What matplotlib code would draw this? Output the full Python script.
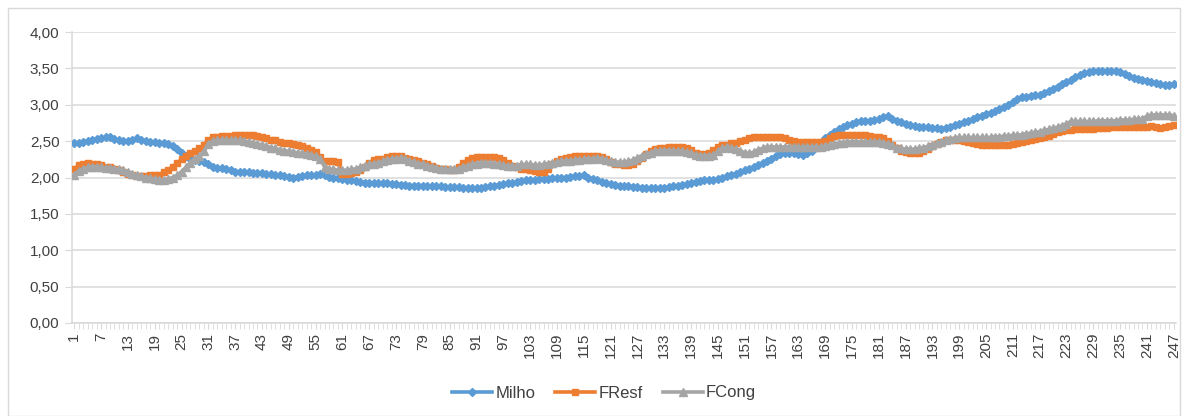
import matplotlib.pyplot as plt
from matplotlib.ticker import FuncFormatter, FixedLocator

plt.rcParams['font.family'] = ['Liberation Sans', 'DejaVu Sans']

milho = [
    2.48, 2.48, 2.49, 2.50, 2.52, 2.53, 2.54, 2.55, 2.55, 2.53,
    2.51, 2.50, 2.50, 2.52, 2.54, 2.52, 2.50, 2.49, 2.49, 2.48,
    2.47, 2.46, 2.43, 2.39, 2.34, 2.30, 2.26, 2.24, 2.23, 2.21,
    2.18, 2.15, 2.13, 2.13, 2.12, 2.10, 2.08, 2.08, 2.07, 2.07,
    2.06, 2.06, 2.06, 2.05, 2.05, 2.04, 2.03, 2.02, 2.01, 2.00,
    2.01, 2.02, 2.03, 2.03, 2.04, 2.05, 2.03, 2.01, 2.00, 1.99,
    1.98, 1.97, 1.96, 1.95, 1.94, 1.93, 1.93, 1.92, 1.92, 1.92,
    1.92, 1.91, 1.91, 1.90, 1.90, 1.89, 1.89, 1.89, 1.89, 1.88,
    1.88, 1.88, 1.88, 1.87, 1.87, 1.87, 1.87, 1.86, 1.86, 1.85,
    1.85, 1.86, 1.87, 1.88, 1.89, 1.90, 1.91, 1.92, 1.93, 1.94,
    1.95, 1.96, 1.97, 1.97, 1.98, 1.98, 1.98, 1.99, 1.99, 2.00,
    2.00, 2.01, 2.02, 2.02, 2.03, 2.00, 1.98, 1.96, 1.94, 1.93,
    1.91, 1.90, 1.89, 1.88, 1.88, 1.87, 1.87, 1.86, 1.86, 1.85,
    1.85, 1.85, 1.86, 1.87, 1.88, 1.89, 1.90, 1.91, 1.93, 1.94,
    1.95, 1.96, 1.96, 1.97, 1.98, 2.00, 2.02, 2.04, 2.05, 2.08,
    2.10, 2.12, 2.14, 2.17, 2.20, 2.23, 2.26, 2.29, 2.32, 2.34,
    2.34, 2.33, 2.32, 2.31, 2.33, 2.37, 2.42, 2.48, 2.54, 2.59,
    2.63, 2.66, 2.69, 2.72, 2.74, 2.76, 2.77, 2.78, 2.78, 2.79,
    2.80, 2.83, 2.84, 2.81, 2.78, 2.76, 2.74, 2.72, 2.71, 2.70,
    2.70, 2.69, 2.68, 2.68, 2.67, 2.68, 2.70, 2.72, 2.74, 2.76,
    2.78, 2.80, 2.83, 2.85, 2.87, 2.89, 2.91, 2.94, 2.97, 3.00,
    3.04, 3.08, 3.10, 3.11, 3.12, 3.13, 3.14, 3.16, 3.19, 3.22,
    3.25, 3.28, 3.31, 3.34, 3.38, 3.41, 3.43, 3.45, 3.46, 3.46,
    3.46, 3.46, 3.46, 3.46, 3.45, 3.42, 3.39, 3.37, 3.35, 3.34,
    3.33, 3.31, 3.30, 3.28, 3.27, 3.27, 3.29,
]

fresf = [
    2.12, 2.17, 2.19, 2.20, 2.19, 2.18, 2.17, 2.15, 2.14, 2.12,
    2.10, 2.08, 2.05, 2.03, 2.02, 2.02, 2.02, 2.03, 2.03, 2.04,
    2.07, 2.10, 2.15, 2.20, 2.25, 2.30, 2.34, 2.37, 2.40, 2.44,
    2.52, 2.55, 2.56, 2.57, 2.57, 2.57, 2.58, 2.58, 2.59, 2.59,
    2.58, 2.57, 2.55, 2.54, 2.52, 2.51, 2.49, 2.48, 2.47, 2.46,
    2.45, 2.43, 2.41, 2.38, 2.35, 2.28, 2.23, 2.22, 2.22, 2.21,
    2.05, 2.05, 2.06, 2.07, 2.10, 2.15, 2.20, 2.24, 2.25, 2.26,
    2.28, 2.30, 2.30, 2.29, 2.27, 2.25, 2.24, 2.22, 2.20, 2.18,
    2.16, 2.13, 2.12, 2.11, 2.10, 2.10, 2.15, 2.20, 2.24, 2.27,
    2.28, 2.28, 2.28, 2.28, 2.28, 2.27, 2.24, 2.20, 2.16, 2.14,
    2.12, 2.11, 2.10, 2.09, 2.08, 2.08, 2.12, 2.18, 2.22, 2.25,
    2.27, 2.28, 2.29, 2.29, 2.30, 2.30, 2.30, 2.29, 2.28, 2.25,
    2.21, 2.19, 2.18, 2.17, 2.17, 2.18, 2.22, 2.27, 2.32, 2.36,
    2.39, 2.40, 2.41, 2.42, 2.42, 2.42, 2.42, 2.41, 2.38, 2.34,
    2.32, 2.32, 2.33, 2.38, 2.42, 2.44, 2.45, 2.47, 2.48, 2.50,
    2.52, 2.54, 2.55, 2.55, 2.55, 2.55, 2.55, 2.55, 2.55, 2.54,
    2.52, 2.50, 2.49, 2.49, 2.49, 2.49, 2.49, 2.49, 2.50, 2.54,
    2.57, 2.58, 2.58, 2.58, 2.58, 2.58, 2.58, 2.58, 2.57, 2.56,
    2.55, 2.54, 2.50, 2.45, 2.40, 2.36, 2.35, 2.34, 2.34, 2.34,
    2.36, 2.39, 2.43, 2.46, 2.49, 2.51, 2.52, 2.52, 2.51, 2.50,
    2.49, 2.48, 2.46, 2.44, 2.44, 2.44, 2.44, 2.44, 2.44, 2.45,
    2.46, 2.48, 2.49, 2.50, 2.52, 2.53, 2.54, 2.55, 2.57, 2.60,
    2.62, 2.64, 2.65, 2.65, 2.66, 2.66, 2.67, 2.67, 2.67, 2.68,
    2.68, 2.68, 2.69, 2.69, 2.70, 2.70, 2.70, 2.69, 2.69, 2.69,
    2.70, 2.71, 2.69, 2.68, 2.70, 2.71, 2.72,
]

fcong = [
    2.04, 2.09, 2.12, 2.14, 2.15, 2.15, 2.14, 2.13, 2.13, 2.12,
    2.11, 2.10, 2.08, 2.05, 2.03, 2.02, 2.00, 1.99, 1.98, 1.97,
    1.97, 1.98, 2.00, 2.03, 2.08, 2.14, 2.20, 2.26, 2.30, 2.36,
    2.46, 2.50, 2.51, 2.51, 2.51, 2.51, 2.51, 2.51, 2.50, 2.49,
    2.47, 2.46, 2.45, 2.43, 2.41, 2.40, 2.38, 2.37, 2.36, 2.35,
    2.34, 2.33, 2.32, 2.31, 2.29, 2.25, 2.15, 2.12, 2.11, 2.10,
    2.10, 2.10, 2.11, 2.12, 2.14, 2.16, 2.18, 2.19, 2.20, 2.22,
    2.24, 2.25, 2.26, 2.27, 2.25, 2.23, 2.21, 2.19, 2.18, 2.16,
    2.15, 2.13, 2.12, 2.11, 2.11, 2.11, 2.12, 2.14, 2.16, 2.18,
    2.19, 2.20, 2.20, 2.20, 2.19, 2.18, 2.17, 2.16, 2.16, 2.16,
    2.18, 2.18, 2.18, 2.17, 2.17, 2.18, 2.19, 2.20, 2.21, 2.22,
    2.23, 2.23, 2.24, 2.24, 2.25, 2.26, 2.26, 2.27, 2.26, 2.24,
    2.22, 2.21, 2.21, 2.21, 2.22, 2.24, 2.27, 2.30, 2.32, 2.34,
    2.36, 2.37, 2.37, 2.37, 2.37, 2.36, 2.36, 2.35, 2.33, 2.31,
    2.30, 2.30, 2.30, 2.31, 2.36, 2.40, 2.42, 2.41, 2.39, 2.37,
    2.34, 2.33, 2.35, 2.38, 2.40, 2.42, 2.42, 2.42, 2.42, 2.42,
    2.42, 2.42, 2.42, 2.42, 2.42, 2.42, 2.42, 2.42, 2.43, 2.45,
    2.46, 2.47, 2.48, 2.49, 2.49, 2.49, 2.49, 2.49, 2.49, 2.49,
    2.49, 2.48, 2.46, 2.44, 2.41, 2.40, 2.39, 2.39, 2.39, 2.40,
    2.41, 2.43, 2.45, 2.47, 2.49, 2.51, 2.53, 2.54, 2.55, 2.55,
    2.55, 2.55, 2.55, 2.55, 2.55, 2.55, 2.56, 2.56, 2.57, 2.57,
    2.58, 2.58, 2.59, 2.60, 2.61, 2.62, 2.63, 2.65, 2.66, 2.68,
    2.69, 2.71, 2.74, 2.77, 2.77, 2.77, 2.77, 2.77, 2.77, 2.78,
    2.78, 2.78, 2.78, 2.78, 2.79, 2.79, 2.79, 2.80, 2.80, 2.81,
    2.84, 2.86, 2.86, 2.86, 2.86, 2.86, 2.85,
]

n = len(milho)
x = list(range(1, n + 1))
label_ticks = list(range(1, n + 1, 6))

grid_col = '#D9D9D9'
text_col = '#404040'

fig = plt.figure(figsize=(11.82, 4.16), dpi=100)
ax = fig.add_axes([72 / 1182, 1 - 323 / 416, 1104 / 1182, 291 / 416])

ax.plot(x, milho, color='#5B9BD5', lw=2.6, marker='D', ms=4.2, label='Milho', zorder=3)
ax.plot(x, fresf, color='#ED7D31', lw=2.6, marker='s', ms=5.0, label='FResf', zorder=4)
ax.plot(x, fcong, color='#A5A5A5', lw=2.6, marker='^', ms=5.5, label='FCong', zorder=5)

ax.set_xlim(0.5, n + 0.5)
ax.set_ylim(0, 4)
ax.set_yticks([0, 0.5, 1, 1.5, 2, 2.5, 3, 3.5, 4])
ax.yaxis.set_major_formatter(FuncFormatter(lambda v, p: f'{v:.2f}'.replace('.', ',')))
ax.grid(axis='y', color=grid_col, lw=1.1)
ax.set_axisbelow(True)

ax.xaxis.set_major_locator(FixedLocator(label_ticks))
ax.xaxis.set_minor_locator(FixedLocator(x))
ax.set_xticklabels([str(t) for t in label_ticks], rotation=90)
ax.tick_params(axis='x', which='both', length=4, color=grid_col, direction='out', pad=3)
ax.tick_params(axis='y', length=5, color=grid_col, pad=4)
ax.tick_params(labelsize=11, labelcolor=text_col)

for side in ['top', 'right']:
    ax.spines[side].set_visible(False)
ax.spines['left'].set_color(grid_col)
ax.spines['bottom'].set_color(grid_col)
ax.spines['left'].set_linewidth(1.1)
ax.spines['bottom'].set_linewidth(1.1)

fig.legend(loc='center', bbox_to_anchor=(604 / 1182, 1 - 393 / 416), ncol=3,
           frameon=False, fontsize=12, labelcolor=text_col, handlelength=2.4,
           columnspacing=1.2, handletextpad=0.2)

fig.patches.append(plt.Rectangle((8 / 1182, 0), 1172 / 1182, 1 - 8 / 416,
                                 transform=fig.transFigure, fill=False,
                                 edgecolor='#D9D9D9', lw=1))

fig.savefig('out.png', dpi=100)
